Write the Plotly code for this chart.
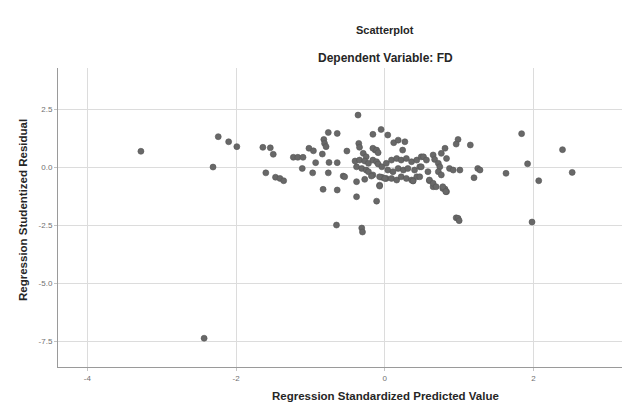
import plotly.graph_objects as go

# Regression Standardized Predicted Value
pred_x = [
    -3.28, -2.31, -2.24, -2.10, -1.99, -2.43,
    1.84, 1.92, 2.39, 2.52, 2.07, 1.63, 1.20, 1.15, 0.985, 0.96, 0.81, 0.83, 0.96, 1.98,
    0.985, 1.00, 1.25, 1.28,
    -0.76, -0.64, -0.82, -0.81, -0.79, -1.64, -1.54, -1.50, -1.02, -0.96,
    -1.23, -1.17, -1.10, -0.84, -0.93, -1.11, -0.75, -0.64, -1.60,
    -1.47, -1.41, -1.36, -0.97, -0.76, -0.83, -0.64,
    -0.36, -0.16, -0.05, 0.04, 0.12, 0.18, 0.27, 0.24, -0.35, -0.51, -0.13,
    -0.56, -0.38, -0.27, -0.16, -0.04, 0.02, -0.07, 0.38, 0.60, 0.65, 0.78,
    -0.38, -0.11, -0.65, -0.31, -0.30,
    -0.34, -0.16, -0.11, -0.09, -0.29, -0.25,
    -0.40, -0.34, -0.27, -0.22, -0.16, -0.11, -0.09,
    -0.38, -0.31, -0.25, -0.22, -0.04,
    0.02, 0.09, 0.16, 0.22, 0.29, 0.36, 0.43, 0.49,
    0.04, 0.11, 0.18, 0.25, 0.31, 0.40, 0.47,
    0.09, 0.16, 0.22, 0.29, 0.36, 0.43,
    -0.54, -0.18, -0.07, 0.00, 0.38, -0.07,
    0.52, 0.56, 0.65, 0.67, 0.81, 0.76, 0.72, 0.74, 0.83, 0.87, 0.92, 1.01,
    0.58, 0.60, 0.65, 0.69, 0.78, 0.82, 0.72, 0.76, 0.49, 0.47,
]

# Regression Studentized Residual
resid_y = [
    0.68, 0.00, 1.31, 1.09, 0.88, -7.38,
    1.44, 0.14, 0.75, -0.23, -0.59, -0.27, -0.46, 0.95, 1.19, 0.99, -0.95, -1.06, -2.19, -2.37,
    -2.21, -2.31, -0.06, -0.13,
    1.49, 1.45, 1.19, 1.02, 0.88, 0.85, 0.83, 0.55, 0.81, 0.70,
    0.42, 0.42, 0.42, 0.56, 0.19, -0.06, 0.20, 0.19, -0.25,
    -0.44, -0.49, -0.59, -0.25, -0.25, -0.96, -0.99,
    2.24, 1.41, 1.62, 1.38, 1.05, 1.16, 1.09, 0.73, 1.02, 0.69, 0.73,
    -0.39, -0.63, -0.53, -0.34, -0.44, -0.49, -0.78, -0.59, -0.59, -0.85, -0.92,
    -1.28, -1.47, -2.50, -2.63, -2.80,
    0.85, 0.81, 0.73, 0.62, 0.59, 0.44,
    0.26, 0.30, 0.26, 0.16, 0.30, 0.23, 0.13,
    0.01, -0.06, -0.13, -0.20, 0.01,
    0.16, 0.30, 0.37, 0.30, 0.37, 0.23, 0.30, 0.44,
    -0.13, -0.20, -0.06, -0.13, -0.06, -0.13, 0.01,
    -0.49, -0.56, -0.42, -0.49, -0.56, -0.42,
    -0.42, -0.39, -0.42, -0.49, -0.60, -0.82,
    0.44, 0.30, 0.52, 0.33, 0.81, 0.59, 0.16, 0.01, 0.37, -0.06, -0.13, -0.13,
    -0.20, -0.56, -0.70, -0.85, -0.85, -1.06, -0.20, -0.34, 0.01, -0.42,
]

x_tick_vals = [-4, -2, 0, 2]
x_tick_text = ["-4", "-2", "0", "2"]
y_tick_vals = [2.5, 0.0, -2.5, -5.0, -7.5]
y_tick_text = ["2.5", "0.0", "-2.5", "-5.0", "-7.5"]

FONT = "Arial, Liberation Sans, sans-serif"

W, H = 627, 405
ML, MR, MT, MB = 58, 5, 68, 38
PW, PH = W - ML - MR, H - MT - MB


def px_to_paper(px, py):
    """Convert a pixel position (from top-left of figure) to paper coordinates."""
    return (px - ML) / PW, (H - MB - py) / PH


fig = go.Figure()
fig.add_trace(go.Scatter(
    x=pred_x, y=resid_y, mode="markers",
    marker=dict(size=6, color="#686868", line=dict(width=0.6, color="#555555")),
    showlegend=False, hoverinfo="x+y",
))

axis_common = dict(
    showgrid=True, gridcolor="#dcdcdc", gridwidth=1,
    zeroline=False, showline=True, linecolor="#9a9a9a", linewidth=1,
    ticks="outside", ticklen=3, tickcolor="#c4c4c4",
    tickfont=dict(family=FONT, size=8, color="#707070"),
)

fig.update_xaxes(range=[-4.395, 3.19], tickvals=x_tick_vals, ticktext=x_tick_text, **axis_common)
fig.update_yaxes(range=[-8.62, 4.27], tickvals=y_tick_vals, ticktext=y_tick_text, **axis_common)

ann = []
for text, px, py, size, angle in [
    ("<b>Scatterplot</b>", 385, 30, 11, 0),
    ("<b>Dependent Variable: FD</b>", 385, 58, 12, 0),
    ("<b>Regression Standardized Predicted Value</b>", 385, 396, 11.5, 0),
    ("<b>Regression Studentized Residual</b>", 23, 210, 11.5, -90),
]:
    ax, ay = px_to_paper(px, py)
    ann.append(dict(text=text, x=ax, y=ay, xref="paper", yref="paper",
                    xanchor="center", yanchor="middle", textangle=angle,
                    showarrow=False, font=dict(size=size, family=FONT, color="#262626")))

fig.update_layout(
    width=W, height=H,
    margin=dict(l=ML, r=MR, t=MT, b=MB),
    paper_bgcolor="white", plot_bgcolor="white",
    font=dict(family=FONT, color="#222222"),
    annotations=ann,
)

fig.write_html("out.html", config={"displayModeBar": False},
               post_script="document.body.style.margin='0';")
